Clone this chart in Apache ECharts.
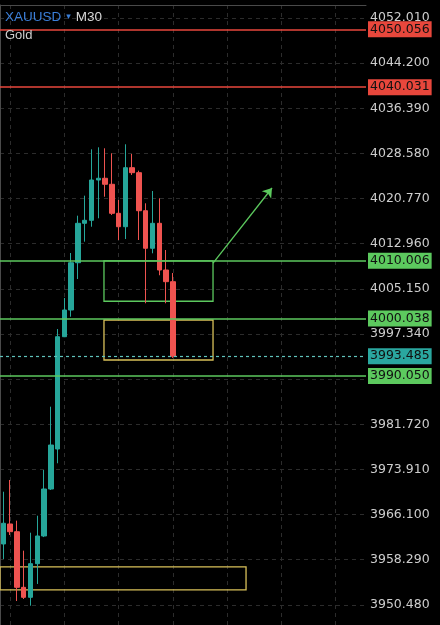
<!DOCTYPE html>
<html>
<head>
<meta charset="utf-8">
<script src="https://cdn.jsdelivr.net/npm/echarts@6/dist/echarts.min.js"></script>
<style>
  html, body { margin: 0; padding: 0; background: #000; }
  #chart { width: 440px; height: 625px; }
</style>
</head>
<body>
<div id="chart"></div>
<script>
// XAUUSD M30 candles
const opens  = [3961.01, 3964.47, 3963.13, 3953.51, 3951.78, 3957.60, 3962.39, 3970.52, 3977.44, 3996.87, 4001.49, 4009.67, 4016.49, 4017.01, 4023.98, 4024.28, 4023.24, 4018.22, 4015.90, 4026.11, 4025.25, 4018.67, 4012.17, 4016.49, 4008.41, 4006.39]
const closes = [3964.59, 3963.13, 3953.51, 3951.78, 3957.60, 3962.39, 3970.52, 3978.13, 3996.87, 4001.49, 4009.67, 4016.49, 4017.01, 4023.98, 4024.28, 4023.24, 4018.22, 4015.90, 4026.11, 4025.25, 4018.67, 4012.17, 4016.49, 4008.41, 4006.39, 3993.485]
const lows   = [3958.41, 3962.56, 3951.14, 3951.49, 3950.33, 3954.09, 3962.20, 3970.35, 3974.97, 3996.80, 4000.33, 4006.85, 4013.31, 4015.90, 4017.36, 4021.09, 4017.93, 4013.60, 4013.77, 4024.85, 4013.60, 4002.65, 4011.30, 4007.50, 4002.65, 3993.20]
const highs  = [3970.05, 3972.08, 3965.04, 3959.85, 3962.96, 3965.90, 3973.81, 3984.76, 3998.20, 4003.57, 4011.35, 4017.81, 4021.27, 4029.29, 4029.64, 4029.47, 4028.60, 4020.52, 4030.16, 4028.48, 4025.60, 4019.95, 4022.08, 4020.82, 4011.87, 4007.89]

// price scale
const priceTicks = [3950.48, 3958.29, 3966.10, 3973.91, 3981.72, 3989.53, 3997.34, 4005.15, 4012.96, 4020.77, 4028.58, 4036.39, 4044.20, 4052.01]
const priceLabels = [3950.48, 3958.29, 3966.10, 3973.91, 3981.72, 3997.34, 4005.15, 4012.96, 4020.77, 4028.58, 4036.39, 4044.20, 4052.01]
const priceMin = 3946.99
const priceMax = 4054.26

// horizontal levels
const redLevels = [4050.056, 4040.031]
const greenLevels = [4010.006, 4000.038, 3990.050]
const lastPrice = 3993.485

// drawn zones: [slotFrom, slotTo, priceTop, priceBottom]
const greenZone = [15.34, 31.43, 4010.006, 4003.0]
const yellowZone = [15.34, 31.43, 3999.76, 3992.84]
const lowZone = [0, 36.3, 3957.03, 3953.05]
// arrow: [slot, price] -> [slot, price]
const arrowFrom = [31.43, 4009.6]
const arrowTo = [40.13, 4022.6]

const slotCount = 54
const categories = []
for (let i = 0; i < slotCount; i++) categories.push(String(i))

const candles = opens.map((o, i) => [o, closes[i], lows[i], highs[i]])

const UP = '#26a69a'
const DOWN = '#ef5350'
const RED = '#e8473c'
const GREEN = '#5cc95e'
const TEAL = '#2aa79f'
const YELLOW = '#d9c15a'
const labelFont = 'DejaVu Sans'

function levelLine(value, lineColor, bg, dashed) {
  return {
    yAxis: value,
    lineStyle: { color: lineColor, width: dashed ? 1.2 : 1.5, type: dashed ? [3, 3] : 'solid' },
    label: {
      show: true,
      position: 'end',
      distance: 2,
      formatter: value.toFixed(3),
      color: '#111',
      backgroundColor: bg,
      padding: [2, 2, 1, 2],
      fontFamily: labelFont,
      fontSize: 12.5
    }
  }
}

function zone(z, color) {
  return [
    { coord: [z[0], z[2]], itemStyle: { color: 'rgba(0,0,0,0)', borderColor: color, borderWidth: 1.3 } },
    { coord: [z[1], z[3]] }
  ]
}

const chart = echarts.init(document.getElementById('chart'), null, { renderer: 'canvas' })

chart.setOption({
  backgroundColor: '#000',
  animation: false,
  title: {
    left: 5,
    top: 8,
    padding: 0,
    itemGap: 3,
    text: '{sym|XAUUSD} {arr|▾} {tf|M30}',
    textStyle: {
      fontWeight: 'normal',
      rich: {
        sym: { color: '#3b7fd9', fontFamily: 'Liberation Sans', fontSize: 13.5, fontWeight: 'normal' },
        arr: { color: '#3b7fd9', fontFamily: 'DejaVu Sans', fontSize: 9, fontWeight: 'normal' },
        tf: { color: '#d8d8d8', fontFamily: 'Liberation Sans', fontSize: 13.5, fontWeight: 'normal' }
      }
    },
    subtext: 'Gold',
    subtextStyle: { color: '#cfcfcf', fontFamily: 'Liberation Sans', fontSize: 13 }
  },
  grid: { left: 0, right: 74, top: 5, bottom: 0 },
  xAxis: [
    {
      type: 'category',
      data: categories,
      position: 'top',
      boundaryGap: true,
      axisLine: { show: true, lineStyle: { color: '#4a4a4a' } },
      axisTick: { show: false },
      axisLabel: { show: false },
      splitLine: {
        show: true,
        alignWithLabel: true,
        interval: (i) => i % 8 === 1,
        lineStyle: { color: '#2c2c2c', type: [4, 4] }
      }
    },
    { type: 'value', min: 0, max: slotCount, show: false }
  ],
  yAxis: {
    type: 'value',
    position: 'right',
    min: priceMin,
    max: priceMax,
    axisLine: { show: true, lineStyle: { color: '#4a4a4a' } },
    axisTick: { show: false, customValues: priceTicks },
    axisLabel: {
      customValues: priceLabels,
      formatter: (v) => v.toFixed(3),
      color: '#cdcdcd',
      fontFamily: labelFont,
      fontSize: 12.5,
      margin: 4
    },
    splitLine: { show: true, lineStyle: { color: '#2c2c2c', type: [4, 4] } }
  },
  series: [
    {
      type: 'candlestick',
      data: candles,
      barWidth: 5,
      itemStyle: { color: UP, color0: DOWN, borderColor: UP, borderColor0: DOWN, borderWidth: 1 },
      markLine: {
        silent: true,
        symbol: ['none', 'none'],
        data: [
          levelLine(redLevels[0], RED, RED),
          levelLine(redLevels[1], RED, RED),
          levelLine(greenLevels[0], GREEN, GREEN),
          levelLine(greenLevels[1], GREEN, GREEN),
          levelLine(greenLevels[2], GREEN, GREEN),
          levelLine(lastPrice, '#5fc2bb', TEAL, true)
        ]
      }
    },
    {
      type: 'line',
      xAxisIndex: 1,
      data: [],
      markArea: {
        silent: true,
        data: [zone(greenZone, GREEN), zone(yellowZone, YELLOW), zone(lowZone, YELLOW)]
      },
      markLine: {
        silent: true,
        symbol: ['none', 'arrow'],
        symbolSize: 9,
        label: { show: false },
        lineStyle: { color: GREEN, width: 1.3, type: 'solid' },
        data: [[{ coord: arrowFrom }, { coord: arrowTo }]]
      }
    }
  ]
})
</script>
</body>
</html>
